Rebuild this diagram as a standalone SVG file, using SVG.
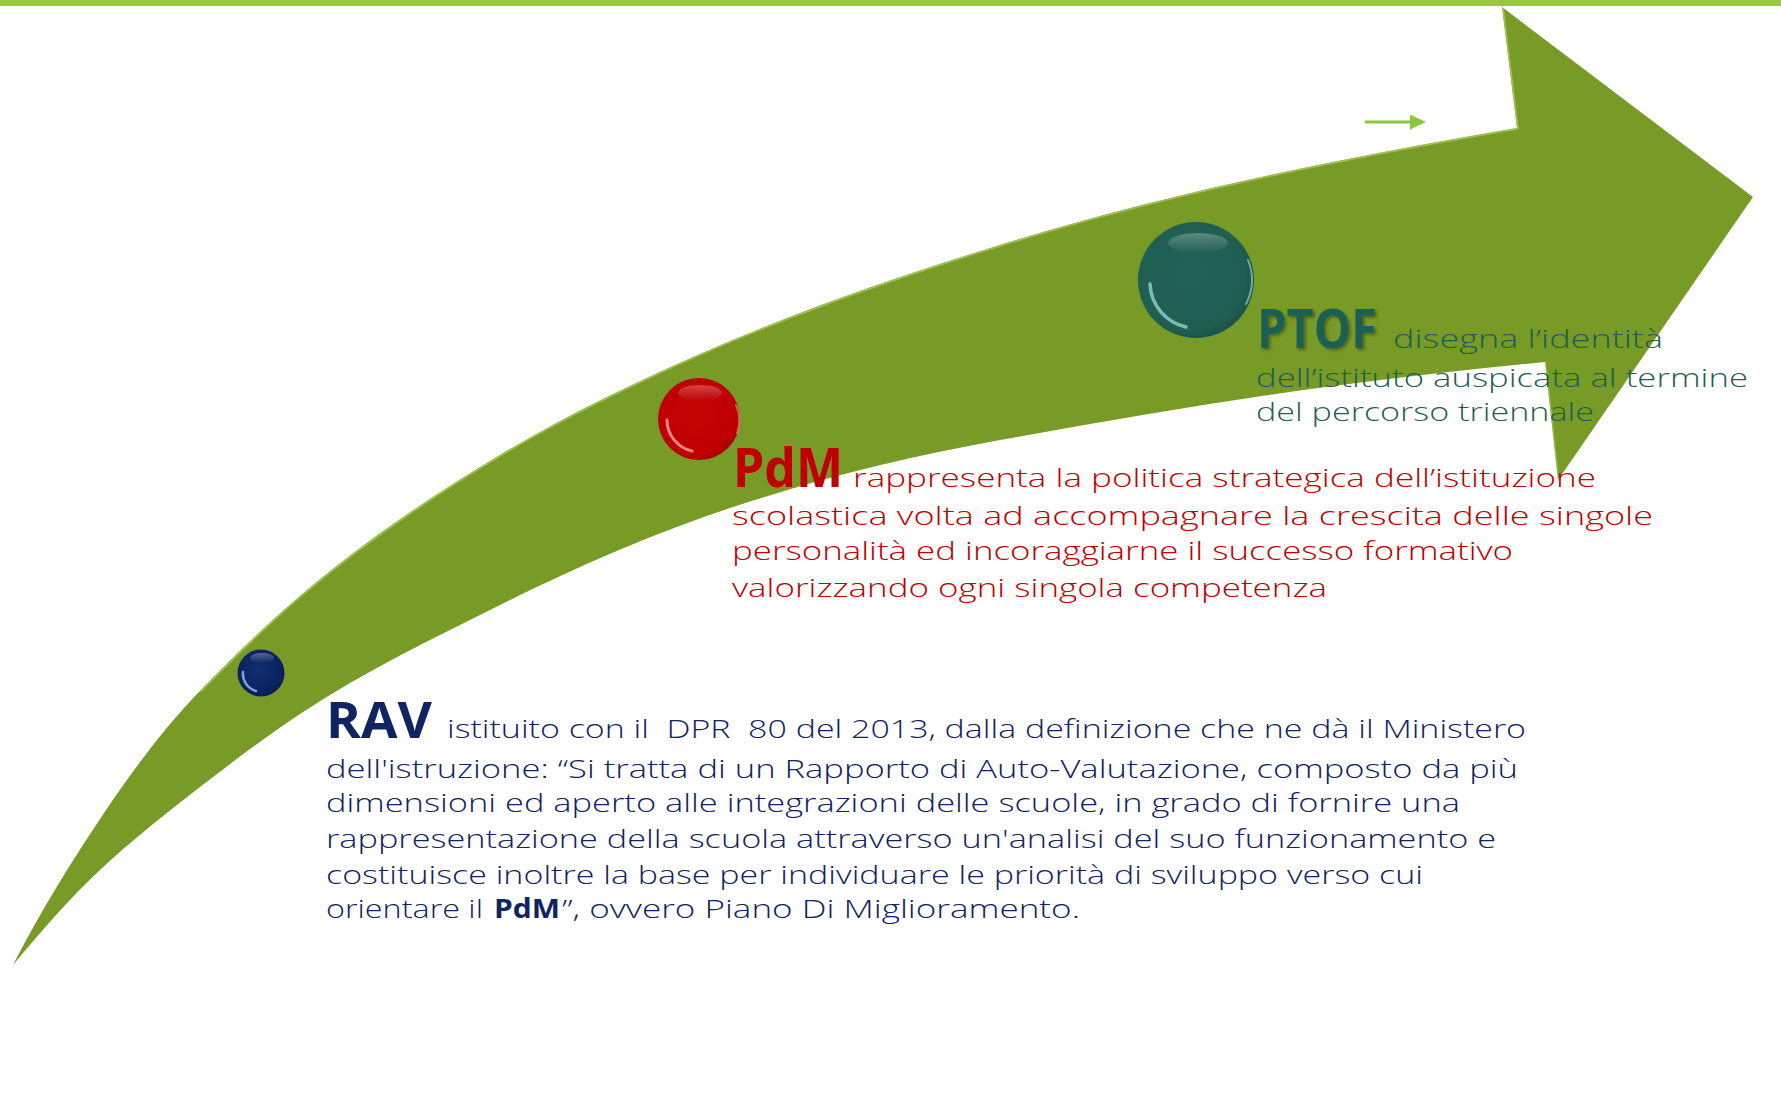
<svg xmlns="http://www.w3.org/2000/svg" width="1781" height="1106" viewBox="0 0 1781 1106">
<style>
.body{font-family:"Open Sans","Liberation Sans",sans-serif;font-size:26px;font-weight:300;}
.head{font-family:"Open Sans","Liberation Sans",sans-serif;font-weight:700;}
.rav{fill:#0F2461;}
.pdm{fill:#C00000;}
.ptof{fill:#1F5F52;}
</style>
<defs>
<filter id="soft" x="-2%" y="-2%" width="104%" height="104%"><feGaussianBlur stdDeviation="0.7"/></filter>
<filter id="shadow" x="-10%" y="-20%" width="130%" height="160%"><feDropShadow dx="2" dy="2" stdDeviation="1.5" flood-color="#000" flood-opacity="0.35"/></filter>
<radialGradient id="gBlue" cx="0.45" cy="0.45" r="0.6"><stop offset="0" stop-color="#12306E"/><stop offset="0.8" stop-color="#0B215F"/><stop offset="1" stop-color="#081A4C"/></radialGradient>
<radialGradient id="gRed" cx="0.45" cy="0.45" r="0.6"><stop offset="0" stop-color="#C60303"/><stop offset="0.8" stop-color="#BE0000"/><stop offset="1" stop-color="#A00000"/></radialGradient>
<radialGradient id="gTeal" cx="0.45" cy="0.45" r="0.6"><stop offset="0" stop-color="#226256"/><stop offset="0.8" stop-color="#205E52"/><stop offset="1" stop-color="#1A4E44"/></radialGradient>
<linearGradient id="gloss" x1="0" y1="0" x2="0" y2="1"><stop offset="0" stop-color="#fff" stop-opacity="0.6"/><stop offset="1" stop-color="#fff" stop-opacity="0"/></linearGradient>
<marker id="arrowHead" markerUnits="userSpaceOnUse" markerWidth="16" markerHeight="15" refX="0" refY="7.5" orient="auto"><path d="M0,0 L16,7.5 L0,15 Z" fill="#8CC63F"/></marker>
<clipPath id="arrowClip"><path id="arrowShape" d="M13,965 C42,908.5 71,862.5 100,819 C133.3,769 166.7,725 200,691 C233.3,657 266.7,624.3 300,596 C366.7,539.3 433.3,495 500,455 C566.7,415 633.3,383.3 700,354 C800,310 900,276 1000,245 C1111,210.6 1222,184.2 1333,162 C1394.3,149.7 1455.7,138.4 1517,128 L1502,7 L1753,197 L1558,480 L1545,362 C1474.3,369 1403.7,376.8 1333,386 C1222,400.4 1111,420 1000,440 C911,456 822,477.6 733,507 C655.3,532.6 577.7,566.2 500,605 C433.3,638.3 366.7,670 300,714 C266.7,736 233.3,761.3 200,787 C166.7,812.7 133.3,839 100,870 C71,897 42,930.2 13,965 Z"/></clipPath>
</defs>
<rect x="0" y="0" width="1781" height="1106" fill="#fff"/>
<rect x="0" y="0" width="1781" height="6" fill="#9BC83B"/>
<g id="arrow">
<path filter="url(#soft)" fill="#789A28" d="M13,965 C42,908.5 71,862.5 100,819 C133.3,769 166.7,725 200,691 C233.3,657 266.7,624.3 300,596 C366.7,539.3 433.3,495 500,455 C566.7,415 633.3,383.3 700,354 C800,310 900,276 1000,245 C1111,210.6 1222,184.2 1333,162 C1394.3,149.7 1455.7,138.4 1517,128 L1502,7 L1753,197 L1558,480 L1545,362 C1474.3,369 1403.7,376.8 1333,386 C1222,400.4 1111,420 1000,440 C911,456 822,477.6 733,507 C655.3,532.6 577.7,566.2 500,605 C433.3,638.3 366.7,670 300,714 C266.7,736 233.3,761.3 200,787 C166.7,812.7 133.3,839 100,870 C71,897 42,930.2 13,965 Z"/>
<path clip-path="url(#arrowClip)" fill="none" stroke="#A5C755" stroke-width="3.5" stroke-opacity="0.85" stroke-linejoin="round" d="M200,691 C233.3,657 266.7,624.3 300,596 C366.7,539.3 433.3,495 500,455 C566.7,415 633.3,383.3 700,354 C800,310 900,276 1000,245 C1111,210.6 1222,184.2 1333,162 C1394.3,149.7 1455.7,138.4 1517,128 L1502,7"/>
<path clip-path="url(#arrowClip)" fill="none" stroke="#A5C755" stroke-width="3" stroke-opacity="0.6" d="M1545,362 L1558,480"/>
</g>
<g id="node-rav">
<circle cx="261" cy="673" r="23.5" fill="url(#gBlue)"/>
<ellipse cx="262" cy="658" rx="12" ry="5" fill="url(#gloss)" opacity="0.5"/>
<path d="M243,672 A18,18 0 0 0 256,691" fill="none" stroke="#9CC3F0" stroke-width="2.5" stroke-linecap="round" opacity="0.8"/>
<text class="head rav" x="326" y="738" font-size="51" textLength="106" lengthAdjust="spacingAndGlyphs">RAV</text>
<text class="body rav" x="447" y="738" textLength="1079" lengthAdjust="spacingAndGlyphs" xml:space="preserve">istituito con il  DPR  80 del 2013, dalla definizione che ne dà il Ministero</text>
<text class="body rav" x="326" y="778" textLength="1192" lengthAdjust="spacingAndGlyphs">dell'istruzione: “Si tratta di un Rapporto di Auto-Valutazione, composto da più</text>
<text class="body rav" x="326" y="812" textLength="1134" lengthAdjust="spacingAndGlyphs">dimensioni ed aperto alle integrazioni delle scuole, in grado di fornire una</text>
<text class="body rav" x="326" y="848" textLength="1170" lengthAdjust="spacingAndGlyphs">rappresentazione della scuola attraverso un'analisi del suo funzionamento e</text>
<text class="body rav" x="326" y="884" textLength="1097" lengthAdjust="spacingAndGlyphs">costituisce inoltre la base per individuare le priorità di sviluppo verso cui</text>
<text class="body rav" x="326" y="918" textLength="157" lengthAdjust="spacingAndGlyphs">orientare il</text>
<text class="head rav" x="494" y="918" font-size="26" textLength="66" lengthAdjust="spacingAndGlyphs">PdM</text>
<text class="body rav" x="562" y="918" textLength="518" lengthAdjust="spacingAndGlyphs">”, ovvero Piano Di Miglioramento.</text>
</g>
<g id="node-pdm">
<circle cx="699" cy="419" r="41" fill="url(#gRed)"/>
<ellipse cx="700" cy="393" rx="22" ry="8" fill="url(#gloss)" opacity="0.45"/>
<path d="M667,420 A32,32 0 0 0 692,451" fill="none" stroke="#FFB0B0" stroke-width="3" stroke-linecap="round" opacity="0.75"/>
<path d="M736,405 A38,38 0 0 1 737,433" fill="none" stroke="#FFB0B0" stroke-width="2" stroke-linecap="round" opacity="0.5"/>
<text class="head pdm" x="733" y="487" font-size="54" textLength="110" lengthAdjust="spacingAndGlyphs">PdM</text>
<text class="body pdm" x="853" y="487" font-size="28" textLength="743" lengthAdjust="spacingAndGlyphs">rappresenta la politica strategica dell’istituzione</text>
<text class="body pdm" x="732" y="525" font-size="28" textLength="921" lengthAdjust="spacingAndGlyphs">scolastica volta ad accompagnare la crescita delle singole</text>
<text class="body pdm" x="732" y="560" font-size="28" textLength="781" lengthAdjust="spacingAndGlyphs">personalità ed incoraggiarne il successo formativo</text>
<text class="body pdm" x="732" y="597" font-size="28" textLength="595" lengthAdjust="spacingAndGlyphs">valorizzando ogni singola competenza</text>
</g>
<g id="node-ptof">
<circle cx="1196" cy="280" r="58" fill="url(#gTeal)"/>
<ellipse cx="1198" cy="243" rx="30" ry="10" fill="url(#gloss)" opacity="0.45"/>
<path d="M1150,284 A46,46 0 0 0 1186,327" fill="none" stroke="#9FE3E0" stroke-width="3.5" stroke-linecap="round" opacity="0.7"/>
<path d="M1248,260 A53,53 0 0 1 1246,304" fill="none" stroke="#9FE3E0" stroke-width="2" stroke-linecap="round" opacity="0.6"/>
<text class="head ptof" x="1257" y="348" font-size="53" textLength="120" lengthAdjust="spacingAndGlyphs" filter="url(#shadow)">PTOF</text>
<text class="body ptof" x="1393" y="348" font-size="28" textLength="270" lengthAdjust="spacingAndGlyphs">disegna l’identità</text>
<text class="body ptof" x="1256" y="387" font-size="28" textLength="492" lengthAdjust="spacingAndGlyphs">dell’istituto auspicata al termine</text>
<text class="body ptof" x="1256" y="421" font-size="28" textLength="338" lengthAdjust="spacingAndGlyphs">del percorso triennale</text>
</g>
<g id="connectors">
<line x1="1365" y1="122" x2="1410" y2="122" stroke="#8CC63F" stroke-width="3" marker-end="url(#arrowHead)"/>
</g>
</svg>
